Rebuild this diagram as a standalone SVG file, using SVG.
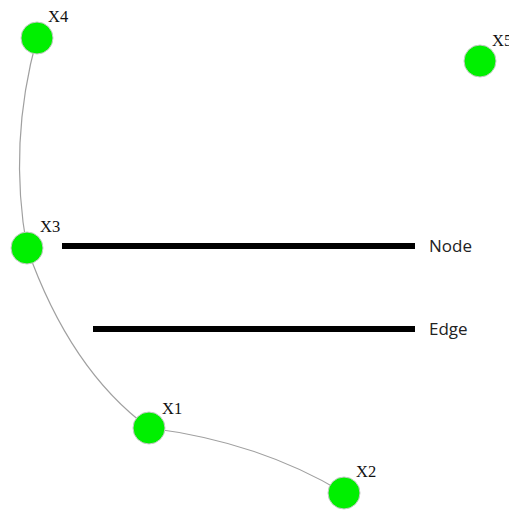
<svg xmlns="http://www.w3.org/2000/svg" width="509" height="511" viewBox="0 0 509 511">
  <style>
    .edge { fill: none; stroke: #a0a0a0; stroke-width: 1.2; }
    .node circle { fill: #00f000; stroke: #c8c8c8; stroke-width: 1; }
    .node text { font-family: "Liberation Serif", serif; font-size: 16.5px; fill: #111; }
    .legend line { stroke: #000; stroke-width: 6; }
    .legend text { font-family: "Open Sans", "Liberation Sans", sans-serif; font-size: 17px; fill: #222; }
  </style>
  <rect width="509" height="511" fill="#fff"/>
  <g id="edges">
    <path class="edge" d="M37,38 Q8,143 27,248"/>
    <path class="edge" d="M27,248 Q70,370 149,428"/>
    <path class="edge" d="M149,428 Q260,442 344,493"/>
  </g>
  <g id="legend" class="legend">
    <line x1="62" y1="246" x2="415" y2="246"/>
    <text x="429" y="252">Node</text>
    <line x1="93" y1="329" x2="415" y2="329"/>
    <text x="429" y="335">Edge</text>
  </g>
  <g id="X4" class="node"><circle cx="37" cy="38" r="16"/><text x="48" y="22">X4</text></g>
  <g id="X5" class="node"><circle cx="480" cy="61" r="16"/><text x="492" y="46">X5</text></g>
  <g id="X3" class="node"><circle cx="27" cy="248" r="16"/><text x="40" y="232">X3</text></g>
  <g id="X1" class="node"><circle cx="149" cy="428" r="16"/><text x="162" y="414">X1</text></g>
  <g id="X2" class="node"><circle cx="344" cy="493" r="16"/><text x="356" y="477">X2</text></g>
</svg>
